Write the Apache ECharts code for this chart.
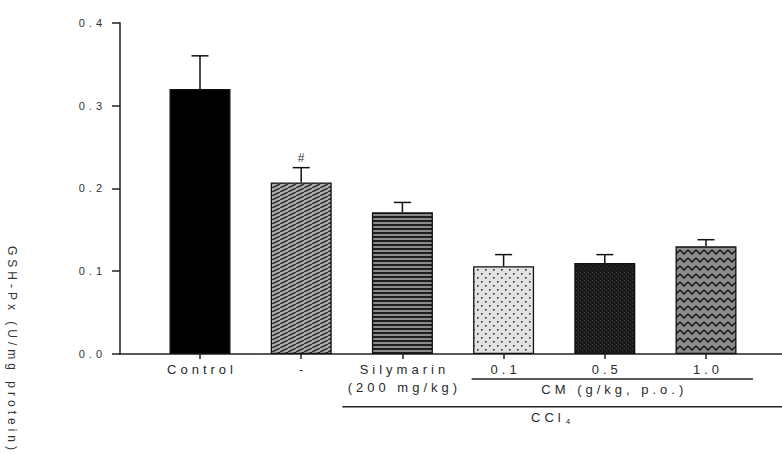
<!DOCTYPE html>
<html><head><meta charset="utf-8">
<script src="https://cdn.jsdelivr.net/npm/echarts@6/dist/echarts.min.js"></script>
<style>
html,body{margin:0;padding:0;background:#fff}
#c{width:782px;height:454px}
#c svg text{letter-spacing:4px}
</style>
</head><body><div id="c"></div>
<script>
// ---- data ----
const categories = ['Control', '-', 'Silymarin\n(200 mg/kg)', '0.1', '0.5', '1.0'];
const means = [0.320, 0.207, 0.171, 0.106, 0.110, 0.130];
const errors = [0.040, 0.018, 0.012, 0.014, 0.010, 0.008];
const marks = ['', '#', '', '', '', ''];
const yTicks = [0, 0.1, 0.2, 0.3, 0.4];
const yTitle = 'GSH-Px (U/mg protein)';
const groupCM = 'CM (g/kg, p.o.)';
const groupCCl = 'CCl';
const groupCClSub = '4';

// ---- patterns ----
function tile(w, h, draw) {
  const c = document.createElement('canvas');
  c.width = w; c.height = h;
  const g = c.getContext('2d');
  draw(g, w, h);
  return { image: c.toDataURL(), repeat: 'repeat', imageWidth: w, imageHeight: h };
}
const patDiag = tile(8, 4, (g, w, h) => {
  g.fillStyle = '#b0b0b0'; g.fillRect(0, 0, w, h);
  g.strokeStyle = '#333'; g.lineWidth = 1.6;
  for (let k = -1; k <= 1; k++) {
    g.beginPath(); g.moveTo(0 + k * 8, 4); g.lineTo(8 + k * 8, 0); g.stroke();
  }
});
const patHoriz = tile(2, 4, (g, w, h) => {
  g.fillStyle = '#8a8a8a'; g.fillRect(0, 0, w, h);
  g.fillStyle = '#1e1e1e'; g.fillRect(0, 0, w, 2);
});
const patDots = tile(8, 8, (g, w, h) => {
  g.fillStyle = '#e2e2e2'; g.fillRect(0, 0, w, h);
  g.fillStyle = '#333'; g.fillRect(1, 1, 1.6, 1.6); g.fillRect(5, 5, 1.6, 1.6);
});
const patCheck = tile(4, 4, (g, w, h) => {
  g.fillStyle = '#1a1a1a'; g.fillRect(0, 0, w, h);
  g.fillStyle = '#3a3a3a'; g.fillRect(0, 0, 1, 1); g.fillRect(2, 2, 1, 1);
});
const patZig = tile(8, 8, (g, w, h) => {
  g.fillStyle = '#8a8a8a'; g.fillRect(0, 0, w, h);
  g.strokeStyle = '#111'; g.lineWidth = 1.4;
  g.beginPath(); g.moveTo(0, 2); g.lineTo(4, 6); g.lineTo(8, 2); g.stroke();
});
const fills = ['#000', patDiag, patHoriz, patDots, patCheck, patZig];

const FONT = "'Liberation Sans', Arial, sans-serif";
const TOP = 22.7, BOTTOM = 100;

const chart = echarts.init(document.getElementById('c'), null, { renderer: 'svg' });
chart.setOption({
  animation: false,
  backgroundColor: '#fff',
  grid: [
    { left: 120, right: 0, top: TOP, bottom: BOTTOM },
    { left: 149.4, right: 25.4, top: TOP, bottom: BOTTOM }
  ],
  xAxis: [
    { gridIndex: 0, type: 'value', min: 0, max: 1,
      axisLine: { show: true, lineStyle: { color: '#222', width: 1.5 } },
      axisTick: { show: false }, axisLabel: { show: false }, splitLine: { show: false } },
    { gridIndex: 1, type: 'category', data: categories,
      axisLine: { show: false },
      axisTick: { show: true, alignWithLabel: true, length: 5, lineStyle: { color: '#222', width: 1.5 } },
      axisLabel: { margin: 7, fontSize: 13, lineHeight: 17.5, color: '#2a2a2a', fontFamily: FONT, interval: 0,
        padding: [0, 0, 0, 4] },
      splitLine: { show: false } }
  ],
  yAxis: [
    { gridIndex: 0, type: 'value', min: yTicks[0], max: yTicks[yTicks.length - 1], interval: 0.1,
      axisLine: { show: true, lineStyle: { color: '#222', width: 1.5 } },
      axisTick: { show: true, length: 8, lineStyle: { color: '#222', width: 1.5 } },
      axisLabel: { margin: 14, fontSize: 11, color: '#333', fontFamily: FONT, formatter: v => v.toFixed(1) },
      splitLine: { show: false } },
    { gridIndex: 1, type: 'value', min: yTicks[0], max: yTicks[yTicks.length - 1], show: false }
  ],
  series: [
    { type: 'bar', xAxisIndex: 1, yAxisIndex: 1, barWidth: 61,
      data: means.map((m, i) => ({ value: m, itemStyle: { color: fills[i], borderColor: '#111', borderWidth: 1.3 } })) },
    { type: 'custom', xAxisIndex: 1, yAxisIndex: 1, z: 3,
      data: means.map((m, i) => [i, m, errors[i]]),
      renderItem: (params, api) => {
        const i = api.value(0), m = api.value(1), e = api.value(2);
        const base = api.coord([i, m]);
        const top = api.coord([i, m + e]);
        const mark = marks[params.dataIndex];
        const ls = { stroke: '#111', lineWidth: 1.5 };
        const children = [
          { type: 'line', shape: { x1: top[0], y1: base[1], x2: top[0], y2: top[1] }, style: ls },
          { type: 'line', shape: { x1: top[0] - 8.5, y1: top[1], x2: top[0] + 8.5, y2: top[1] }, style: ls }
        ];
        if (mark) children.push({ type: 'text', x: top[0] + 2, y: top[1] - 4,
          style: { text: mark, fill: '#333', fontSize: 12, fontFamily: FONT, align: 'center', verticalAlign: 'bottom' } });
        return { type: 'group', children };
      } }
  ]
});

// annotations under the axis positioned via the chart's own scale
const px = i => chart.convertToPixel({ gridIndex: 1 }, [i, 0]);
const c2 = px(2), c3 = px(3), c5 = px(5);
const y0 = c2[1];
const W = chart.getWidth();
const cmX1 = c3[0] - 32, cmX2 = c5[0] + 47, cmY = y0 + 25;
const cclX1 = c2[0] - 60, cclY = y0 + 52.7;
chart.setOption({
  graphic: [
    { type: 'line', shape: { x1: cmX1, y1: cmY, x2: cmX2, y2: cmY }, style: { stroke: '#222', lineWidth: 1.5 } },
    { type: 'text', x: (cmX1 + cmX2) / 2 + 2, y: cmY + 10,
      style: { text: groupCM, fontSize: 13, fill: '#2a2a2a', fontFamily: FONT, align: 'center', verticalAlign: 'middle' } },
    { type: 'line', shape: { x1: cclX1, y1: cclY, x2: W, y2: cclY }, style: { stroke: '#222', lineWidth: 1.5 } },
    { type: 'text', x: c3[0] + 51, y: cclY + 11,
      style: { text: '{a|' + groupCCl + '}{s|' + groupCClSub + '}', align: 'center', verticalAlign: 'middle',
        rich: { a: { fontSize: 13, fill: '#2a2a2a', fontFamily: FONT, lineHeight: 15, verticalAlign: 'middle', padding: [0, 9, 0, 0] },
                s: { fontSize: 8, fill: '#2a2a2a', fontFamily: FONT, lineHeight: 15, verticalAlign: 'bottom', padding: [7, 0, 0, 0] } } } },
    { type: 'text', x: 12, y: 350, rotation: -Math.PI / 2,
      style: { text: yTitle, fontSize: 12, fill: '#333', fontFamily: FONT, align: 'center', verticalAlign: 'middle' } }
  ]
});
</script>
</body></html>
